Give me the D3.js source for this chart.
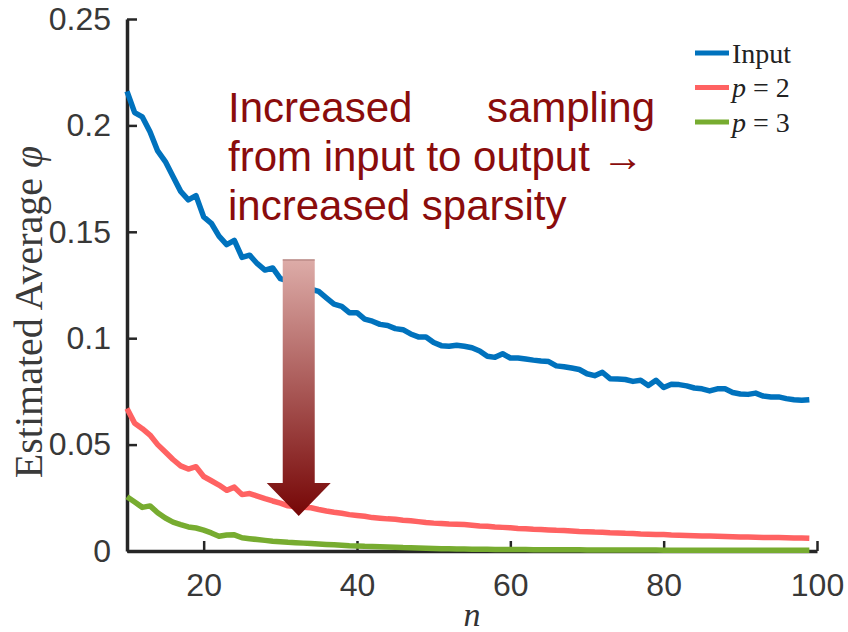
<!DOCTYPE html>
<html>
<head>
<meta charset="utf-8">
<script src="https://cdn.jsdelivr.net/npm/d3@7"></script>
<style>
  html, body { margin: 0; padding: 0; background: #fff; }
  svg { display: block; }
</style>
</head>
<body>
<div id="chart"></div>
<script>
// n runs from 10 to 99, one estimate per step
var nStart = 10;

var inputValues = [
    0.216, 0.206, 0.204, 0.197, 0.188, 0.183, 0.176, 0.169, 0.165, 0.167,
    0.157, 0.154, 0.148, 0.144, 0.146, 0.138, 0.139, 0.135, 0.132, 0.133,
    0.128, 0.127, 0.126, 0.125, 0.123, 0.122, 0.119, 0.116, 0.115, 0.112,
    0.112, 0.109, 0.108, 0.1065, 0.106, 0.1045, 0.104, 0.102, 0.1006, 0.1006,
    0.098, 0.0965, 0.0962, 0.0967, 0.0962, 0.0955, 0.094, 0.0915, 0.091, 0.0927,
    0.0907, 0.0907, 0.0902, 0.0897, 0.0893, 0.089, 0.087, 0.0866, 0.086, 0.0853,
    0.0833, 0.0824, 0.084, 0.081, 0.0808, 0.0806, 0.0797, 0.0802, 0.0778, 0.0802,
    0.0768, 0.0784, 0.0782, 0.0776, 0.0766, 0.0762, 0.0752, 0.0762, 0.0762, 0.0745,
    0.0738, 0.0736, 0.0742, 0.0728, 0.0724, 0.0724, 0.0716, 0.0711, 0.0708, 0.0711
];

var p2Values = [
    0.067, 0.060, 0.0575, 0.0545, 0.050, 0.0465, 0.043, 0.040, 0.0385, 0.0396,
    0.035, 0.033, 0.031, 0.0285, 0.030, 0.0265, 0.027, 0.0258, 0.0246, 0.0235,
    0.0225, 0.0212, 0.0208, 0.0205, 0.0203, 0.0195, 0.0188, 0.0182, 0.0177, 0.0171,
    0.0167, 0.0163, 0.0157, 0.0154, 0.0151, 0.0149, 0.0145, 0.0142, 0.0138, 0.0134,
    0.0131, 0.0129, 0.0127, 0.0126, 0.0124, 0.0121, 0.0118, 0.0116, 0.0113, 0.0111,
    0.0109, 0.0106, 0.0104, 0.0102, 0.0101, 0.0099, 0.0097, 0.0096, 0.0094, 0.0092,
    0.0091, 0.0089, 0.0088, 0.0086, 0.0085, 0.0083, 0.0082, 0.0080, 0.0079, 0.0078,
    0.0077, 0.0075, 0.0074, 0.0073, 0.0072, 0.0071, 0.0070, 0.0069, 0.0068, 0.0067,
    0.0066, 0.0066, 0.0065, 0.0064, 0.0063, 0.0063, 0.0062, 0.0061, 0.0061, 0.0060
];

var p3Values = [
    0.0255, 0.023, 0.0205, 0.0212, 0.018, 0.0155, 0.0136, 0.0124, 0.0113, 0.0108,
    0.0098, 0.0085, 0.0069, 0.0075, 0.0076, 0.0062, 0.0058, 0.0054, 0.0050, 0.0046,
    0.0044, 0.0041, 0.0039, 0.0037, 0.0035, 0.0033, 0.0031, 0.0029, 0.0027, 0.0025,
    0.0024, 0.0022, 0.0021, 0.0020, 0.0019, 0.0018, 0.0016, 0.0015, 0.0014, 0.0013,
    0.0012, 0.0011, 0.0010, 0.00095, 0.0009, 0.00085, 0.0008, 0.00078, 0.00075, 0.00072,
    0.0007, 0.00068, 0.00066, 0.00064, 0.00062, 0.0006, 0.00058, 0.00056, 0.00055, 0.00054,
    0.00052, 0.0005, 0.00049, 0.00048, 0.00047, 0.00046, 0.00045, 0.00044, 0.00043, 0.00042,
    0.00041, 0.0004, 0.00039, 0.00038, 0.00037, 0.00036, 0.00036, 0.00035, 0.00035, 0.00034,
    0.00034, 0.00033, 0.00033, 0.00032, 0.00032, 0.00031, 0.00031, 0.0003, 0.0003, 0.0003
];

var seriesNames = ["Input", "p = 2", "p = 3"];
var seriesColors = ["#0072bd", "#ff6262", "#77ac30"];

var xTicks = [20, 40, 60, 80, 100];
var yTicks = [0, 0.05, 0.1, 0.15, 0.2, 0.25];
var yTickLabels = ["0", "0.05", "0.1", "0.15", "0.2", "0.25"];

// arrow annotation, in data units
var arrowN = 32.4;
var arrowTop = 0.137;
var arrowTip = 0.0165;

var noteLines = ["from input to output \u2192", "increased sparsity"];

(function () {
    "use strict";

    var width = 848, height = 632;
    var svg = d3.select("#chart").append("svg")
        .attr("width", width)
        .attr("height", height);

    var x = d3.scaleLinear().domain([10, 100]).range([127, 817]);
    var y = d3.scaleLinear().domain([0, 0.25]).range([551, 19]);

    var axisColor = "#262626";

    // y axis, ticks pointing inward
    var yAxis = svg.append("g")
        .attr("transform", "translate(" + x(10) + ",0)")
        .call(d3.axisLeft(y)
            .tickValues(yTicks)
            .tickFormat(function (d, i) { return yTickLabels[i]; })
            .tickSizeInner(-10).tickSizeOuter(0).tickPadding(16));

    var xAxis = svg.append("g")
        .attr("transform", "translate(0," + y(0) + ")")
        .call(d3.axisBottom(x)
            .tickValues(xTicks)
            .tickSizeInner(-10).tickSizeOuter(0).tickPadding(22));

    [yAxis, xAxis].forEach(function (g) {
        g.select(".domain").attr("stroke", axisColor).attr("stroke-width", 3.5);
        g.selectAll(".tick line").attr("stroke", axisColor).attr("stroke-width", 2.5);
        g.selectAll(".tick text")
            .attr("fill", "#383838")
            .attr("font-family", "'Liberation Sans', Arial, sans-serif")
            .attr("font-size", "32px");
    });
    xAxis.selectAll(".tick text").attr("dy", "0.71em");

    // series lines
    var allSeries = [inputValues, p2Values, p3Values].map(function (vals, i) {
        return {
            name: seriesNames[i],
            color: seriesColors[i],
            values: vals.map(function (v, j) { return { n: nStart + j, v: v }; })
        };
    });

    var line = d3.line()
        .x(function (d) { return x(d.n); })
        .y(function (d) { return y(d.v); });

    svg.append("g").selectAll("path")
        .data(allSeries)
        .join("path")
        .attr("d", function (d) { return line(d.values); })
        .attr("fill", "none")
        .attr("stroke", function (d) { return d.color; })
        .attr("stroke-width", 5.5)
        .attr("stroke-linejoin", "round");

    // y label
    var yLabel = svg.append("text")
        .attr("transform", "translate(42," + 312 + ") rotate(-90)")
        .attr("text-anchor", "middle")
        .attr("fill", "#3a3a3a")
        .attr("font-family", "'Liberation Serif', 'Times New Roman', serif")
        .attr("font-size", "40px");
    yLabel.append("tspan").text("Estimated Average ");
    yLabel.append("tspan").attr("font-style", "italic").text("\u03c6");

    // x label
    svg.append("text")
        .attr("x", (x(10) + x(100)) / 2)
        .attr("y", 626)
        .attr("text-anchor", "middle")
        .attr("fill", "#333")
        .attr("font-family", "'Liberation Serif', 'Times New Roman', serif")
        .attr("font-style", "italic")
        .attr("font-size", "34px")
        .text("n");

    // legend
    var legend = svg.append("g").attr("transform", "translate(695,53)");
    var rows = legend.selectAll("g")
        .data(allSeries)
        .join("g")
        .attr("transform", function (d, i) { return "translate(0," + (i * 34.5) + ")"; });
    rows.append("line")
        .attr("x1", 0).attr("x2", 34)
        .attr("stroke", function (d) { return d.color; })
        .attr("stroke-width", 5);
    var legendText = rows.append("text")
        .attr("x", 37)
        .attr("dy", "0.35em")
        .attr("fill", "#222")
        .attr("font-family", "'Liberation Serif', 'Times New Roman', serif")
        .attr("font-size", "28px");
    legendText.each(function (d) {
        var t = d3.select(this);
        if (d.name === "Input") {
            t.text("Input");
        } else {
            t.append("tspan").attr("font-style", "italic").text("p");
            t.append("tspan").text(" = " + d.name.slice(-1));
        }
    });

    // gradient arrow
    var defs = svg.append("defs");
    var grad = defs.append("linearGradient")
        .attr("id", "arrowGrad")
        .attr("x1", 0).attr("y1", 0).attr("x2", 0).attr("y2", 1);
    grad.append("stop").attr("offset", "0%").attr("stop-color", "#ddaca8");
    grad.append("stop").attr("offset", "100%").attr("stop-color", "#760606");

    var ax = x(arrowN), aTop = y(arrowTop), aTip = y(arrowTip);
    var shaftHalf = 16, headHalf = 32, headLen = 33;
    var arrowPath = d3.path();
    arrowPath.moveTo(ax - shaftHalf, aTop);
    arrowPath.lineTo(ax + shaftHalf, aTop);
    arrowPath.lineTo(ax + shaftHalf, aTip - headLen);
    arrowPath.lineTo(ax + headHalf, aTip - headLen);
    arrowPath.lineTo(ax, aTip);
    arrowPath.lineTo(ax - headHalf, aTip - headLen);
    arrowPath.lineTo(ax - shaftHalf, aTip - headLen);
    arrowPath.closePath();
    svg.append("path")
        .attr("d", arrowPath.toString())
        .attr("fill", "url(#arrowGrad)");
    svg.append("line")
        .attr("x1", ax - shaftHalf).attr("x2", ax + shaftHalf)
        .attr("y1", aTop + 0.5).attr("y2", aTop + 0.5)
        .attr("stroke", "#a87672").attr("stroke-width", 1);

    // annotation text (first line justified)
    var note = svg.append("g")
        .attr("fill", "#8a0c0c")
        .attr("font-family", "'Liberation Sans', Arial, sans-serif")
        .attr("font-size", "42px");
    note.append("text").attr("x", 228).attr("y", 122).text("Increased");
    note.append("text").attr("x", 655).attr("y", 122)
        .attr("text-anchor", "end").text("sampling");
    note.selectAll("text.more")
        .data(noteLines)
        .join("text")
        .attr("class", "more")
        .attr("x", 228)
        .attr("y", function (d, i) { return 171 + i * 49; })
        .text(function (d) { return d; });
})();
</script>
</body>
</html>
